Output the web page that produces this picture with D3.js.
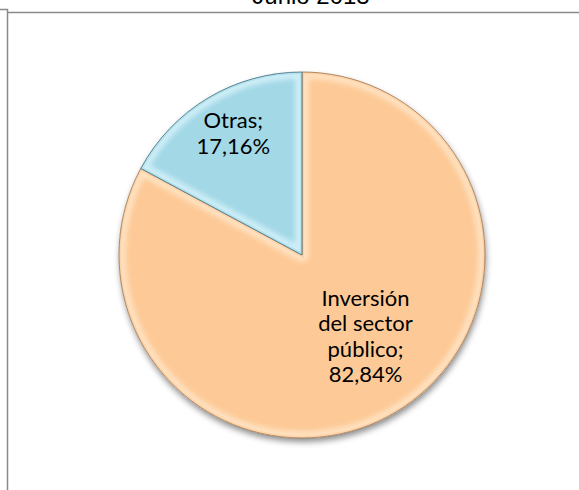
<!DOCTYPE html>
<html>
<head>
<meta charset="utf-8">
<script src="https://cdn.jsdelivr.net/npm/d3@7"></script>
<style>
  html, body { margin: 0; padding: 0; background: #fff; }
  svg { display: block; }
</style>
</head>
<body>
<div class="chart"></div>
<script>
var WIDTH = 579;
var HEIGHT = 490;
var C_X = 302;
var C_Y = 255;
var RADIUS = 183;

var title = "Junio 2013";
var categories = ["Inversión del sector público", "Otras"];
var values = [82.84, 17.16];
var labelLines = [["Inversión", "del sector", "público;", "82,84%"], ["Otras;", "17,16%"]];
var colors = ["#fdca97", "#a3d8e7"];
var lightColors = ["#ffe3c4", "#d2f0f8"];
var darkColors = ["#9c7450", "#3f6f7c"];

// label placement: radius along the slice middle plus a nudge
var labelRadius = [112, 134];
var labelNudge = [[6, -14], [0, -6]];
var LINE_H = 25.5;

var svg = d3.select(".chart")
    .append("svg")
    .attr("width", WIDTH)
    .attr("height", HEIGHT);

var defs = svg.append("defs");

var shadow = defs.append("filter")
    .attr("id", "shadow")
    .attr("x", "-20%").attr("y", "-20%")
    .attr("width", "140%").attr("height", "140%");
shadow.append("feDropShadow")
    .attr("dx", 1)
    .attr("dy", 4)
    .attr("stdDeviation", 3)
    .attr("flood-color", "#000")
    .attr("flood-opacity", 0.45);

var soft = defs.append("filter").attr("id", "soft");
soft.append("feGaussianBlur").attr("stdDeviation", 2.5);

// frame lines
svg.append("path")
    .attr("d", "M0,9.5 H7.5 V" + HEIGHT)
    .attr("fill", "none")
    .attr("stroke", "#8a8a8a")
    .attr("stroke-width", 1.5);

svg.append("line")
    .attr("x1", 8)
    .attr("y1", 12.5)
    .attr("x2", WIDTH)
    .attr("y2", 12.5)
    .attr("stroke", "#8a8a8a")
    .attr("stroke-width", 1.5);

// title (cut off at the top in the original)
svg.append("text")
    .attr("x", 311)
    .attr("y", 4)
    .attr("text-anchor", "middle")
    .style("font-family", "'Liberation Sans', Arial, sans-serif")
    .style("font-size", "24px")
    .attr("fill", "#000")
    .text(title);

// clockwise from 12 o'clock
var pie = d3.pie()
    .sort(null)
    .value(function(d) { return d; });

var arcs = pie(values);

var arc = d3.arc()
    .innerRadius(0)
    .outerRadius(RADIUS);

var g = svg.append("g")
    .attr("transform", "translate(" + C_X + "," + C_Y + ")");

// shadow under the whole pie
g.append("circle")
    .attr("r", RADIUS)
    .attr("fill", "#fff")
    .attr("filter", "url(#shadow)");

arcs.forEach(function(d, i) {
    defs.append("clipPath")
        .attr("id", "clip" + i)
        .append("path")
        .attr("d", arc(d));
});

var slice = g.selectAll("g.slice")
    .data(arcs)
    .enter().append("g")
    .attr("class", "slice");

slice.append("path")
    .attr("d", arc)
    .attr("fill", function(d, i) { return colors[i]; });

// bevel: light band along the inner edge of each slice
slice.append("path")
    .attr("d", arc)
    .attr("fill", "none")
    .attr("stroke", function(d, i) { return lightColors[i]; })
    .attr("stroke-width", 14)
    .attr("stroke-linejoin", "round")
    .attr("clip-path", function(d, i) { return "url(#clip" + i + ")"; })
    .attr("filter", "url(#soft)")
    .attr("opacity", 0.9);

slice.append("path")
    .attr("d", arc)
    .attr("fill", "none")
    .attr("stroke", function(d, i) { return colors[i]; })
    .attr("stroke-width", 4)
    .attr("clip-path", function(d, i) { return "url(#clip" + i + ")"; })
    .attr("opacity", 0.6);

// thin darker outline
slice.append("path")
    .attr("d", arc)
    .attr("fill", "none")
    .attr("stroke", function(d, i) { return darkColors[i]; })
    .attr("stroke-width", 1)
    .attr("stroke-opacity", 0.8);

// labels
slice.append("text")
    .attr("text-anchor", "middle")
    .style("font-family", "Lato, 'Open Sans', sans-serif")
    .style("font-size", "22px")
    .attr("fill", "#000")
    .each(function(d, i) {
        var c = d3.arc().innerRadius(labelRadius[i]).outerRadius(labelRadius[i]).centroid(d);
        var lines = labelLines[i];
        var x = c[0] + labelNudge[i][0];
        var y0 = c[1] + labelNudge[i][1] - (lines.length - 1) * LINE_H / 2 + 7;
        var t = d3.select(this);
        lines.forEach(function(s, k) {
            t.append("tspan")
                .attr("x", x)
                .attr("y", y0 + k * LINE_H)
                .text(s);
        });
    });
</script>
</body>
</html>
